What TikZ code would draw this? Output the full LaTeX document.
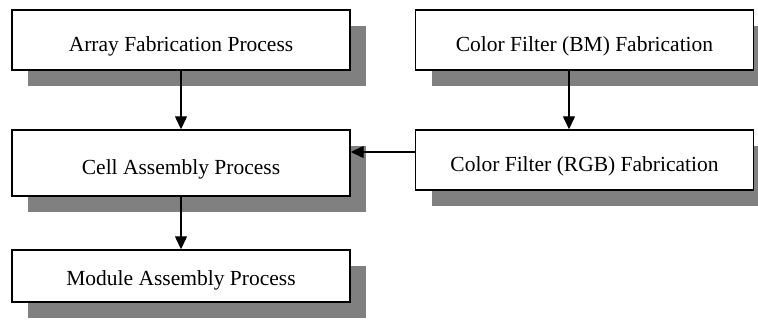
\documentclass[tikz,border=0pt]{standalone}
\usepackage{fontspec}
\setmainfont{Liberation Serif}
\usetikzlibrary{arrows.meta,shadows}
\begin{document}
\begin{tikzpicture}[x=1pt,y=-1pt,
  procbox/.style={draw=black, line width=1.4pt, fill=white, minimum width=338pt,
    inner sep=0pt, text height=24pt, text depth=0pt, font=\fontsize{21.5}{24}\selectfont,
    drop shadow={shadow xshift=16pt, shadow yshift=-16pt, fill=black!50, opacity=1}},
  flow/.style={line width=1.3pt, -{Triangle[width=12pt,length=13pt]}}]
  \useasboundingbox (0,0) rectangle (758,323);
  % process boxes
  \node[procbox, minimum height=60pt] (array) at (181,40) {Array Fabrication Process};
  \node[procbox, minimum height=60pt] (bm)    at (584.5,40) {Color Filter (BM) Fabrication};
  \node[procbox, minimum height=66pt] (cell)  at (181,163) {Cell Assembly Process};
  \node[procbox, minimum height=60pt] (rgb)   at (584.5,160) {Color Filter (RGB) Fabrication};
  \node[procbox, minimum height=52pt, text height=18pt] (module) at (181,276) {Module Assembly Process};
  % helper positions for the connectors
  \coordinate (rx) at (569,0);
  \coordinate (hy) at (0,152);
  % connectors
  \draw[flow] (array.south) -- (cell.north);
  \draw[flow] (cell.south) -- (module.north);
  \draw[flow] (bm.south -| rx) -- (rgb.north -| rx);
  \draw[flow] (rgb.west |- hy) -- (cell.east |- hy);
\end{tikzpicture}
\end{document}
